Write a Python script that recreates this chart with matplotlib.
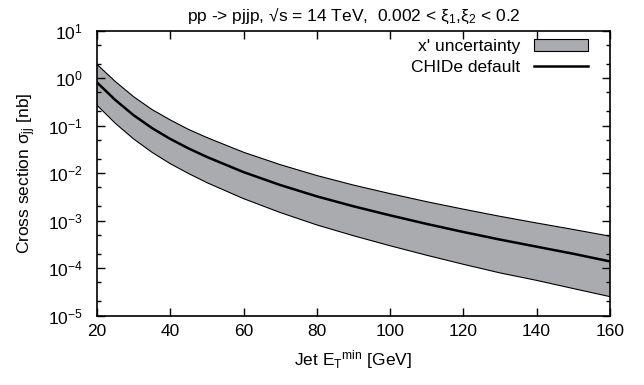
import numpy as np
import matplotlib
import matplotlib.pyplot as plt
from matplotlib.ticker import LogLocator, FixedLocator, NullFormatter
from matplotlib.patches import Patch
from matplotlib.lines import Line2D

matplotlib.use('Agg')

plt.rcParams['font.family'] = ['Liberation Sans', 'DejaVu Sans']
plt.rcParams['mathtext.default'] = 'regular'
plt.rcParams['axes.unicode_minus'] = False

# jet E_T^min [GeV]
et_min = [20, 25, 30, 35, 40, 45, 50, 60, 70, 80, 90, 100, 110, 120, 130, 140, 150, 160]
# CHIDe default cross section [nb]
sigma_default = [0.813, 0.347, 0.166, 0.0891, 0.0525, 0.0331, 0.0219, 0.0105, 5.62e-3,
                 3.24e-3, 2.0e-3, 1.29e-3, 8.5e-4, 5.75e-4, 3.98e-4, 2.82e-4, 2.0e-4, 1.38e-4]
# x' uncertainty band
sigma_upper = [1.95, 0.851, 0.407, 0.219, 0.132, 0.0832, 0.0562, 0.0275, 0.0151, 8.9e-3,
               5.6e-3, 3.7e-3, 2.5e-3, 1.74e-3, 1.23e-3, 8.9e-4, 6.5e-4, 4.7e-4]
sigma_lower = [0.27, 0.112, 0.0525, 0.0275, 0.0158, 9.8e-3, 6.3e-3, 2.9e-3, 1.48e-3, 8.1e-4,
               4.8e-4, 2.95e-4, 1.86e-4, 1.2e-4, 7.9e-5, 5.5e-5, 3.7e-5, 2.5e-5]

x_ticks = [20, 40, 60, 80, 100, 120, 140, 160]

fs = 12.5
fig = plt.figure(figsize=(6.44, 3.85), dpi=100)
ax = fig.add_axes([0.1506, 0.1805, 0.7964, 0.7397])

ax.fill_between(et_min, sigma_lower, sigma_upper, facecolor='#aaabae',
                edgecolor='none', zorder=1)
ax.plot(et_min, sigma_upper, color='black', lw=0.8, zorder=2)
ax.plot(et_min, sigma_lower, color='black', lw=0.8, zorder=2)
ax.plot(et_min, sigma_default, color='black', lw=1.8, zorder=3)

ax.set_yscale('log')
ax.set_xlim(20, 160)
ax.set_ylim(1e-5, 1e1)
ax.xaxis.set_major_locator(FixedLocator(x_ticks))
ax.yaxis.set_major_locator(LogLocator(base=10, numticks=10))
ax.yaxis.set_minor_locator(LogLocator(base=10, subs=(2.0, 5.0), numticks=10))
ax.yaxis.set_minor_formatter(NullFormatter())

ax.tick_params(which='both', direction='in', top=True, right=True, labelsize=fs,
               width=1.0, colors='black')
ax.tick_params(which='major', length=6)
ax.tick_params(which='minor', length=3)
ax.tick_params(axis='x', pad=6)
ax.tick_params(axis='y', pad=10)
for s in ax.spines.values():
    s.set_linewidth(1.2)

ax.set_xlabel('Jet E$_T$$^{min}$ [GeV]', fontsize=fs, labelpad=7)
ax.set_ylabel('Cross section σ$_{jj}$ [nb]', fontsize=fs, labelpad=7)
ax.set_title('pp -> pjjp, √s = 14 TeV,  0.002 < ξ$_1$,ξ$_2$ < 0.2', fontsize=fs, pad=7)

handles = [Patch(facecolor='#aaabae', edgecolor='black', linewidth=0.8),
           Line2D([], [], color='black', lw=1.8)]
ax.legend(handles, ["x' uncertainty", 'CHIDe default'], loc='upper right',
          bbox_to_anchor=(0.971, 0.995), frameon=False, markerfirst=False,
          fontsize=fs, handlelength=3.1, handleheight=0.7, labelspacing=0.3,
          handletextpad=0.8, borderaxespad=0.0)

plt.savefig('out.png', dpi=100)
plt.close()
